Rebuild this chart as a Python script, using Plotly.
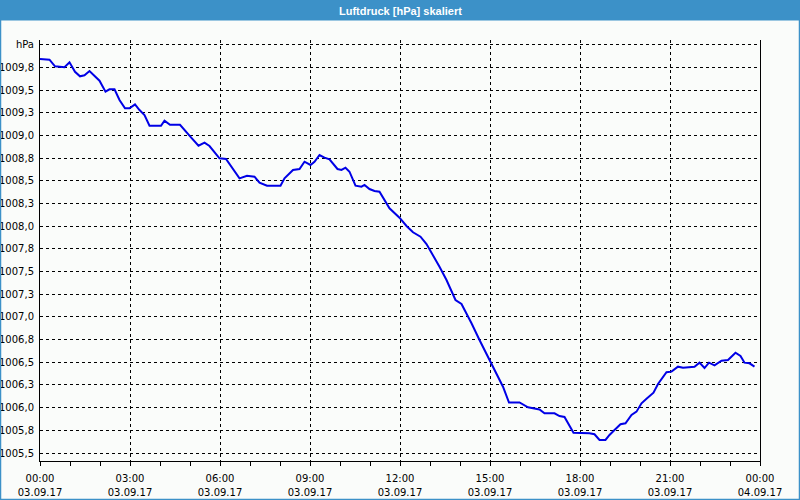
import plotly.graph_objects as go

# ---- data ----
DAY = "2017-09-03"
times = ["00:00","00:19","00:30","00:49","00:59","01:10","01:20","01:29","01:39","01:47",
         "01:59","02:11","02:19","02:29","02:39","02:50","02:59","03:10","03:19","03:29",
         "03:39","04:02","04:09","04:20","04:40","05:02","05:17","05:29","05:39","05:59",
         "06:12","06:39","06:54","07:09","07:19","07:34","08:01","08:09","08:26","08:39",
         "08:49","09:01","09:09","09:19","09:29","09:39","09:55","10:03","10:11","10:19",
         "10:31","10:43","10:49","10:59","11:09","11:19","11:29","11:39","11:59","12:13",
         "12:26","12:41","12:53","13:06","13:19","13:33","13:46","13:51","14:03","14:13",
         "14:23","14:39","14:59","15:13","15:26","15:38","15:59","16:16","16:39","16:49",
         "17:09","17:19","17:29","17:47","18:19","18:29","18:39","18:51","18:59","19:09",
         "19:21","19:31","19:43","19:53","20:03","20:13","20:27","20:36","20:53","21:03",
         "21:16","21:26","21:39","21:49","21:59","22:09","22:18","22:29","22:43","22:56",
         "23:11","23:21","23:29","23:39","23:49"]
pressure = [1009.843,1009.836,1009.763,1009.752,1009.807,1009.703,1009.653,1009.664,1009.711,1009.667,
            1009.604,1009.483,1009.509,1009.509,1009.392,1009.300,1009.300,1009.344,1009.281,1009.226,
            1009.108,1009.108,1009.163,1009.119,1009.119,1008.980,1008.888,1008.921,1008.884,1008.749,
            1008.741,1008.528,1008.557,1008.546,1008.480,1008.447,1008.447,1008.528,1008.620,1008.631,
            1008.711,1008.675,1008.711,1008.785,1008.756,1008.738,1008.631,1008.620,1008.645,1008.601,
            1008.447,1008.436,1008.455,1008.410,1008.388,1008.381,1008.289,1008.198,1008.094,1008.003,
            1007.933,1007.885,1007.804,1007.683,1007.554,1007.407,1007.261,1007.187,1007.143,1007.040,
            1006.930,1006.746,1006.526,1006.379,1006.231,1006.057,1006.057,1006.004,1005.980,1005.938,
            1005.938,1005.908,1005.897,1005.724,1005.718,1005.707,1005.644,1005.644,1005.699,1005.754,
            1005.817,1005.828,1005.919,1005.956,1006.048,1006.099,1006.165,1006.261,1006.390,1006.397,
            1006.452,1006.441,1006.445,1006.452,1006.496,1006.437,1006.496,1006.467,1006.518,1006.526,
            1006.606,1006.570,1006.496,1006.489,1006.452]

y_tickvals = [1005.5,1005.75,1006.0,1006.25,1006.5,1006.75,1007.0,1007.25,1007.5,1007.75,
              1008.0,1008.25,1008.5,1008.75,1009.0,1009.25,1009.5,1009.75,1010.0]
y_ticktext = ["1005,5","1005,8","1006,0","1006,3","1006,5","1006,8","1007,0","1007,3","1007,5","1007,8",
              "1008,0","1008,3","1008,5","1008,8","1009,0","1009,3","1009,5","1009,8","hPa"]

x_tickvals = ["2017-09-03 00:00","2017-09-03 03:00","2017-09-03 06:00","2017-09-03 09:00",
              "2017-09-03 12:00","2017-09-03 15:00","2017-09-03 18:00","2017-09-03 21:00",
              "2017-09-04 00:00"]
x_time_labels = ["00:00","03:00","06:00","09:00","12:00","15:00","18:00","21:00","00:00"]
x_date_labels = ["03.09.17","03.09.17","03.09.17","03.09.17","03.09.17","03.09.17","03.09.17",
                 "03.09.17","04.09.17"]

title_text = "Luftdruck [hPa] skaliert"
y_range = [1005.412, 1010.053]
x_range = ["2017-09-03 00:00", "2017-09-04 00:00"]

# ---- figure ----
W, H = 800, 500
ML, MR, MT, MB = 40, 40, 40, 39
PW, PH = W - ML - MR, H - MT - MB
BG = "#fafcfa"
BLUE = "#3c91c8"
FONT = "DejaVu Sans"

x_dt = [f"{DAY} {t}" for t in times]

fig = go.Figure()
fig.add_trace(go.Scatter(x=x_dt, y=pressure, mode="lines",
                         line=dict(color="#0000e6", width=2), showlegend=False,
                         hoverinfo="skip"))
# invisible trace on second x axis so it renders
fig.add_trace(go.Scatter(x=[x_dt[0]], y=[pressure[0]], xaxis="x2", mode="markers",
                         marker=dict(opacity=0), showlegend=False, hoverinfo="skip"))

grid = dict(showgrid=True, gridcolor="black", gridwidth=1, griddash="3px,3px")

fig.update_layout(
    width=W, height=H,
    margin=dict(l=ML, r=MR, t=MT, b=MB, pad=0, autoexpand=False),
    paper_bgcolor=BG, plot_bgcolor=BG,
    font=dict(family=FONT, size=10, color="black"),
    xaxis=dict(type="date", range=x_range, tickmode="array", tickvals=x_tickvals,
               ticktext=x_time_labels, ticks="outside", ticklen=4, tickcolor="black",
               showline=True, linecolor="black", linewidth=1, mirror=False,
               zeroline=False, ticklabelstandoff=4, automargin=False,
               minor=dict(dtick=3600000, ticks="outside", ticklen=4, tickcolor="black",
                          showgrid=False),
               tickfont=dict(family=FONT, size=10, color="black"), **grid),
    xaxis2=dict(type="date", range=x_range, overlaying="x", anchor="y", side="bottom",
                tickmode="array", tickvals=x_tickvals, ticktext=x_date_labels,
                ticks="", showgrid=False, showline=False, zeroline=False,
                ticklabelstandoff=24, automargin=False,
                tickfont=dict(family=FONT, size=10, color="black")),
    yaxis=dict(range=y_range, tickmode="array", tickvals=y_tickvals, ticktext=y_ticktext,
               ticks="", showline=True, linecolor="black", linewidth=1, mirror=True,
               zeroline=False, ticklabelstandoff=3, automargin=False,
               tickfont=dict(family=FONT, size=10, color="black"), **grid),
)

px2x = lambda px: (px - ML) / PW
py2y = lambda py: 1 - (py - MT) / PH

# title bar
fig.add_shape(type="rect", xref="paper", yref="paper",
              x0=px2x(0), x1=px2x(W), y0=py2y(20.5), y1=py2y(0),
              fillcolor=BLUE, line=dict(width=0), layer="above")
# window border (left, right, bottom)
for (xa, ya, xb, yb) in [(0.5, 20, 0.5, 499.5), (799.5, 20, 799.5, 499.5), (0, 499.5, 800, 499.5)]:
    fig.add_shape(type="line", xref="paper", yref="paper",
                  x0=px2x(xa), y0=py2y(ya), x1=px2x(xb), y1=py2y(yb),
                  line=dict(color=BLUE, width=1.5), layer="above")

fig.add_annotation(text=f"<b>{title_text}</b>", xref="paper", yref="paper",
                   x=px2x(400), y=py2y(10.5), xanchor="center", yanchor="middle",
                   showarrow=False, font=dict(family="Liberation Sans", size=11, color="white"))

fig.write_html("out.html")
